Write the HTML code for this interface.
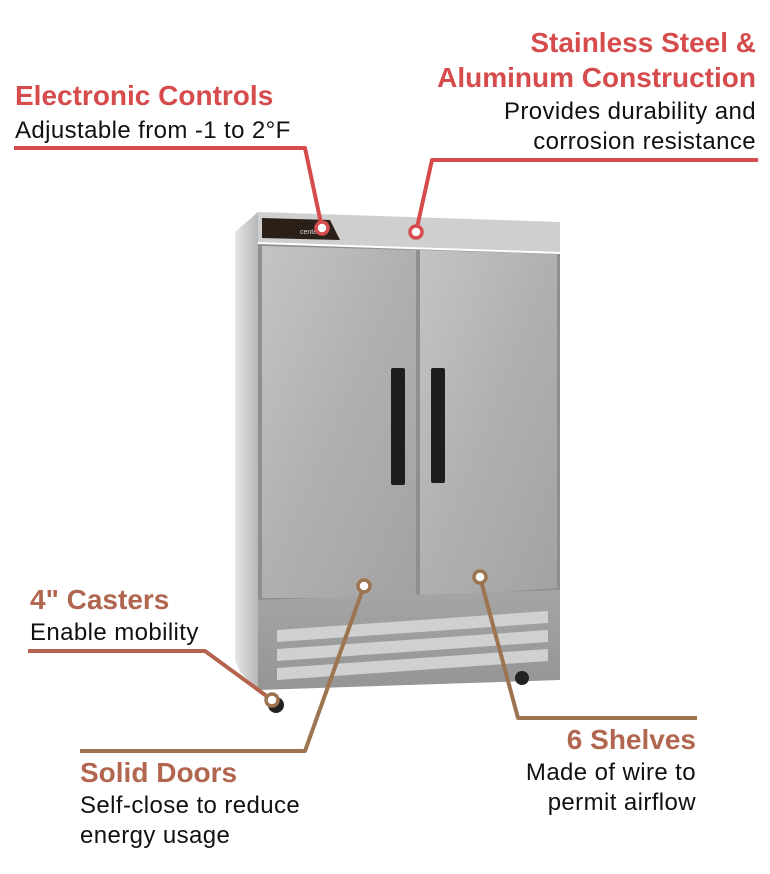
<!DOCTYPE html>
<html><head><meta charset="utf-8"><style>
html,body{margin:0;padding:0;background:#fff;width:770px;height:874px;overflow:hidden}
svg{display:block}
text{font-family:"Liberation Sans",sans-serif}
</style></head><body>
<svg width="770" height="874" viewBox="0 0 770 874" xmlns="http://www.w3.org/2000/svg">
<defs>
<linearGradient id="door" x1="0" y1="0" x2="1" y2="1">
<stop offset="0" stop-color="#c4c4c4"/><stop offset="0.5" stop-color="#b0b0b0"/><stop offset="1" stop-color="#a2a2a2"/></linearGradient>
<linearGradient id="side" x1="0" y1="0" x2="1" y2="0">
<stop offset="0" stop-color="#e6e6e6"/><stop offset="1" stop-color="#b8b8b8"/></linearGradient>
<linearGradient id="base" x1="0" y1="0" x2="0" y2="1">
<stop offset="0" stop-color="#a5a5a5"/><stop offset="1" stop-color="#959595"/></linearGradient>
</defs>
<polygon points="235,232 258,212 258,690 240,672 235,660" fill="url(#side)"/>
<polygon points="258,212 560,222 560,252 258,242" fill="#cfcfcf"/>
<polygon points="262,218 330,220 340,240 262,238" fill="#2a2018"/>
<text x="300" y="234" font-size="7" fill="#ddd">cente</text>
<polygon points="258,244 560,254 560,600 258,600" fill="#8f8f8f"/>
<polygon points="262,246 416,250 416,598 262,598" fill="url(#door)"/>
<polygon points="420,250 557,254 557,588 420,598" fill="url(#door)"/>
<rect x="391" y="368" width="14" height="117" rx="2" fill="#1e1e1e"/>
<rect x="431" y="368" width="14" height="115" rx="2" fill="#1e1e1e"/>
<polygon points="258,600 560,590 560,680 258,690" fill="url(#base)"/>
<polygon points="277,630 548,611 548,623 277,642" fill="#d0d0d0"/>
<polygon points="277,649 548,630 548,642 277,661" fill="#d0d0d0"/>
<polygon points="277,668 548,649 548,661 277,680" fill="#d0d0d0"/>
<circle cx="276" cy="705" r="8" fill="#222"/>
<circle cx="522" cy="678" r="7" fill="#222"/>
<g fill="none" stroke-width="4" stroke-linejoin="round">
<polyline points="14,148 305,148 322,228" stroke="#d64c4c"/>
<polyline points="758,160 432,160 416,232" stroke="#d64c4c"/>
<polyline points="28,651 205,651 272,700" stroke="#b5634f"/>
<polyline points="80,751 305,751 364,586" stroke="#9c7450"/>
<polyline points="697,718 518,718 480,577" stroke="#9c7450"/>
</g>
<g stroke-width="3.5" fill="#fff">
<circle cx="322" cy="228" r="6" stroke="#d64c4c"/>
<circle cx="416" cy="232" r="6" stroke="#d64c4c"/>
<circle cx="272" cy="700" r="6" stroke="#9c7450"/>
<circle cx="364" cy="586" r="6" stroke="#9c7450"/>
<circle cx="480" cy="577" r="6" stroke="#9c7450"/>
</g>
<g font-weight="bold" font-size="28">
<text x="15" y="105" fill="#d64c4c">Electronic Controls</text>
<text x="756" y="52" fill="#d64c4c" text-anchor="end">Stainless Steel &amp;</text>
<text x="756" y="87" fill="#d64c4c" text-anchor="end">Aluminum Construction</text>
<text x="30" y="609" fill="#b0664f">4" Casters</text>
<text x="80" y="782" fill="#b0664f">Solid Doors</text>
<text x="696" y="749" fill="#b0664f" text-anchor="end">6 Shelves</text>
</g>
<g font-size="24" fill="#111" letter-spacing="0.4">
<text x="15" y="138">Adjustable from -1 to 2°F</text>
<text x="756" y="119" text-anchor="end">Provides durability and</text>
<text x="756" y="149" text-anchor="end">corrosion resistance</text>
<text x="30" y="640">Enable mobility</text>
<text x="80" y="813">Self-close to reduce</text>
<text x="80" y="843">energy usage</text>
<text x="696" y="780" text-anchor="end">Made of wire to</text>
<text x="696" y="810" text-anchor="end">permit airflow</text>
</g>
</svg>
</body></html>
